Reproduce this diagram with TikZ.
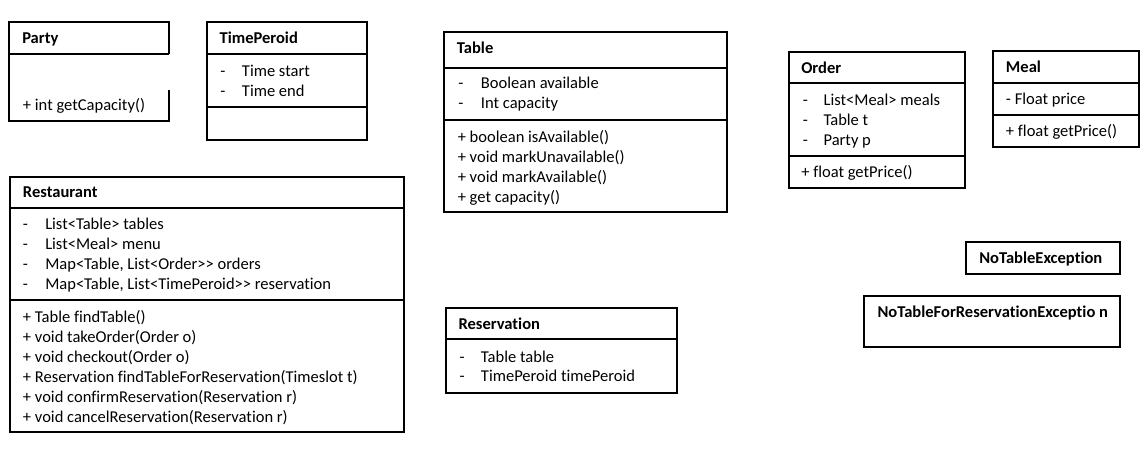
\documentclass[tikz,border=0pt]{standalone}
\usepackage{fontspec}
\setmainfont{Carlito}[Ligatures={NoCommon,TeXOff}]
\tikzset{
  box/.style={draw, line width=1.5pt},
  sep/.style={draw, line width=1.5pt},
  txt/.style={anchor=base west, inner sep=0pt, yshift=-0.75pt, font=\fontsize{12.4}{14}\selectfont},
  ttl/.style={txt, font=\fontsize{12.4}{14}\selectfont\bfseries},
}
\begin{document}
\begin{tikzpicture}[x=0.75pt,y=-0.75pt]
\useasboundingbox (0,0) rectangle (1144,449);
% Party
\draw[box] (169,54) -- (169,21.7) -- (9.3,21.7) -- (9.3,121) -- (169,121) -- (169,90);
\draw[sep] (9.3,54) -- (169,54);
\node[ttl] (partyT) at (22,43) {Party};
\node[txt] (partyM1) at (22.7,109.5) {+ int getCapacity()};
% TimePeroid
\draw[box] (207.3,21.7) rectangle (366.7,140);
\draw[sep] (207.3,54) -- (366.7,54);
\draw[sep] (207.3,107.3) -- (366.7,107.3);
\node[ttl] (tpT) at (219.3,43) {TimePeroid};
\node[txt] (tpD1) at (220,75.5) {-};
\node[txt] (tpA1) at (241.7,75.5) {Time start};
\node[txt] (tpD2) at (220,95.5) {-};
\node[txt] (tpA2) at (241.7,95.5) {Time end};
% Table
\draw[box] (444.3,32.3) rectangle (726.7,211.7);
\draw[sep] (444.3,67.7) -- (726.7,67.7);
\draw[sep] (444.3,120) -- (726.7,120);
\node[ttl] (tabT) at (456.7,52.5) {Table};
\node[txt] (tabD1) at (458,87.8) {-};
\node[txt] (tabA1) at (480.7,87.8) {Boolean available};
\node[txt] (tabD2) at (458,107.8) {-};
\node[txt] (tabA2) at (480.7,107.8) {Int capacity};
\node[txt] (tabM1) at (457.5,141.2) {+ boolean isAvailable()};
\node[txt] (tabM2) at (457.5,161.2) {+ void markUnavailable()};
\node[txt] (tabM3) at (457.5,181.2) {+ void markAvailable()};
\node[txt] (tabM4) at (457.5,201.2) {+ get capacity()};
% Order
\draw[box] (789,52.3) rectangle (965,187.7);
\draw[sep] (789,83.3) -- (965,83.3);
\draw[sep] (789,156) -- (965,156);
\node[ttl] (ordT) at (801,72.2) {Order};
\node[txt] (ordD1) at (802.7,104.5) {-};
\node[txt] (ordA1) at (823.3,104.5) {List<Meal> meals};
\node[txt] (ordD2) at (802.7,124.5) {-};
\node[txt] (ordA2) at (823.3,124.5) {Table t};
\node[txt] (ordD3) at (802.7,144.5) {-};
\node[txt] (ordA3) at (823.3,144.5) {Party p};
\node[txt] (ordM1) at (801,176.2) {+ float getPrice()};
% Meal
\draw[box] (992.7,51) rectangle (1139.3,146.7);
\draw[sep] (992.7,82.7) -- (1139.3,82.7);
\draw[sep] (992.7,115) -- (1139.3,115);
\node[ttl] (mealT) at (1005.7,71.2) {Meal};
\node[txt] (mealA1) at (1005.7,103.8) {- Float price};
\node[txt] (mealM1) at (1005.7,135.5) {+ float getPrice()};
% NoTableException
\draw[box] (966,242.3) rectangle (1120,274.3);
\node[ttl] (ntT) at (979,262.8) {NoTableException};
% NoTableForReservationException
\draw[box] (864,295.7) rectangle (1120,347.3);
\node[ttl] (ntrT) at (877.3,316.2) {NoTableForReservationExceptio n};
% Restaurant
\draw[box] (10,176.7) rectangle (404,431.7);
\draw[sep] (10,207.7) -- (404,207.7);
\draw[sep] (10,300) -- (404,300);
\node[ttl] (resT) at (22.7,196.2) {Restaurant};
\node[txt] (resD1) at (22.7,228.8) {-};
\node[txt] (resA1) at (45,228.8) {List<Table> tables};
\node[txt] (resD2) at (22.7,248.8) {-};
\node[txt] (resA2) at (45,248.8) {List<Meal> menu};
\node[txt] (resD3) at (22.7,268.8) {-};
\node[txt] (resA3) at (45,268.8) {Map<Table, List<Order>> orders};
\node[txt] (resD4) at (22.7,288.8) {-};
\node[txt] (resA4) at (45,288.8) {Map<Table, List<TimePeroid>> reservation};
\node[txt] (resM1) at (22.7,321.2) {+ Table findTable()};
\node[txt] (resM2) at (22.7,341.2) {+ void takeOrder(Order o)};
\node[txt] (resM3) at (22.7,361.2) {+ void checkout(Order o)};
\node[txt] (resM4) at (22.7,381.2) {+ Reservation findTableForReservation(Timeslot t)};
\node[txt] (resM5) at (22.7,401.2) {+ void confirmReservation(Reservation r)};
\node[txt] (resM6) at (22.7,421.2) {+ void cancelReservation(Reservation r)};
% Reservation
\draw[box] (445.7,308.3) rectangle (676.7,392.7);
\draw[sep] (445.7,339.3) -- (676.7,339.3);
\node[ttl] (rsvT) at (458.3,328.8) {Reservation};
\node[txt] (rsvD1) at (459.3,361.2) {-};
\node[txt] (rsvA1) at (480.7,361.2) {Table table};
\node[txt] (rsvD2) at (459.3,380.5) {-};
\node[txt] (rsvA2) at (480.7,380.5) {TimePeroid timePeroid};
\end{tikzpicture}
\end{document}
